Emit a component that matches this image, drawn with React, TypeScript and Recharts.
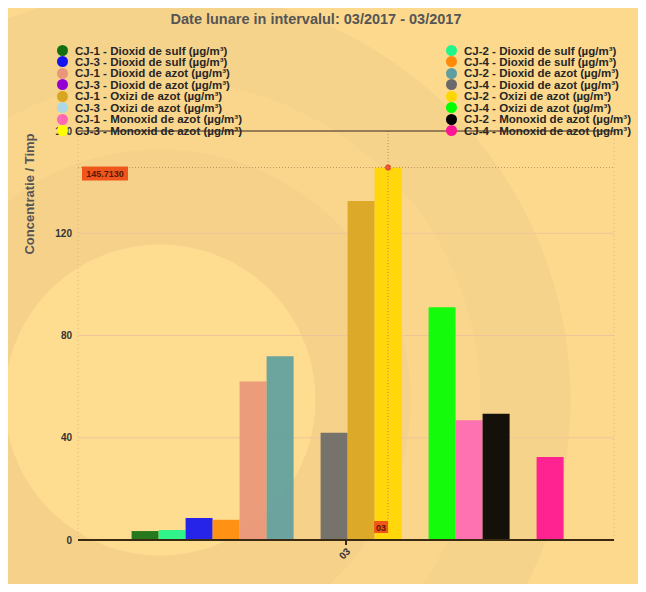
import React from 'react';
import { BarChart, Bar, XAxis, YAxis, CartesianGrid, ReferenceLine, ReferenceArea } from 'recharts';

const title = 'Date lunare in intervalul: 03/2017 - 03/2017';
const months = ['03'];
const seriesNames = [
  'CJ-1 - Dioxid de sulf (µg/m³)',
  'CJ-2 - Dioxid de sulf (µg/m³)',
  'CJ-3 - Dioxid de sulf (µg/m³)',
  'CJ-4 - Dioxid de sulf (µg/m³)',
  'CJ-1 - Dioxid de azot (µg/m³)',
  'CJ-2 - Dioxid de azot (µg/m³)',
  'CJ-3 - Dioxid de azot (µg/m³)',
  'CJ-4 - Dioxid de azot (µg/m³)',
  'CJ-1 - Oxizi de azot (µg/m³)',
  'CJ-2 - Oxizi de azot (µg/m³)',
  'CJ-3 - Oxizi de azot (µg/m³)',
  'CJ-4 - Oxizi de azot (µg/m³)',
  'CJ-1 - Monoxid de azot (µg/m³)',
  'CJ-2 - Monoxid de azot (µg/m³)',
  'CJ-3 - Monoxid de azot (µg/m³)',
  'CJ-4 - Monoxid de azot (µg/m³)',
];
const seriesColors = [
  '#127012', '#1ff58a', '#1414f0', '#ff8a0a',
  '#e9967a', '#5f9ea0', '#9400d3', '#6a6a6a',
  '#daa520', '#ffd700', '#add8e6', '#00ff00',
  '#ff69b4', '#000000', '#ffff00', '#ff1493',
];
// values for March 2017
const seriesValues = [3.5, 3.9, 8.6, 7.9, 62.0, 71.9, 0, 42.0, 132.6, 145.713, 0, 91.1, 46.8, 49.4, 0, 32.5];
const yTicks = [0, 40, 80, 120, 160];
const activeSeries = 9;
const activeValue = 145.713;

const data = months.map((m) => {
  const row: Record<string, any> = { month: m };
  seriesValues.forEach((v, i) => { row['s' + i] = v; });
  return row;
});

const FONT = 'Arial, "Liberation Sans", Helvetica, sans-serif';

const ActiveBar = (props: any) => {
  const { x, y, width, height, fill, payload } = props;
  const v = payload['s' + activeSeries];
  const base = y + height;
  const top = base - (height / v) * yTicks[yTicks.length - 1];
  const cx = x + width / 2;
  return (
    <g>
      <rect x={x} y={y} width={width} height={height} fill={fill} fillOpacity={0.92} />
      <line x1={cx} x2={cx} y1={top} y2={base - 19} stroke="#c08858" strokeDasharray="1 2" />
      <circle cx={cx} cy={y} r={3} fill="#e8502a" />
      <rect x={cx - 14} y={base - 19} width={14} height={12} fill="#f0561c" />
      <text x={cx - 7} y={base - 9.5} textAnchor="middle" fontSize={9} fontWeight="bold" fill="#5a1800" fontFamily={FONT}>
        {payload.month}
      </text>
    </g>
  );
};

const ValueLabel = (props: any) => {
  const vb = props.viewBox;
  return (
    <g>
      <rect x={vb.x + 4} y={vb.y - 1} width={46} height={14} fill="#f0561c" />
      <text x={vb.x + 27} y={vb.y + 9.5} textAnchor="middle" fontSize={9} fontWeight="bold" fill="#5a1800" fontFamily={FONT}>
        {activeValue.toFixed(4)}
      </text>
    </g>
  );
};

const YLabel = (props: any) => {
  const vb = props.viewBox;
  const lx = vb.x - 4;
  const ly = vb.y + 63;
  return (
    <text x={lx} y={ly} transform={`rotate(-90, ${lx}, ${ly})`} textAnchor="middle" fontSize={13} fontWeight="bold" fill="#555" fontFamily={FONT}>
      Concentratie / Timp
    </text>
  );
};

export default function App() {
  return (
    <div style={{ position: 'relative', width: 646, height: 592, margin: -8, background: '#dcdcdc', fontFamily: FONT, overflow: 'hidden' }}>
      <div
        style={{
          position: 'absolute', left: 8, top: 5, width: 638, height: 587,
          background: 'radial-gradient(circle at 152px 395px, #fedc90 0px, #fedc90 155px, #f5d18a 156px, #f5d18a 250px, #fad68c 251px, #fad68c 320px, #f6d38b 321px, #f6d38b 410px, #fcd98d 411px)',
        }}
      />
      <div style={{ position: 'absolute', left: 0, width: 632, top: 11, textAlign: 'center', fontSize: 14.5, fontWeight: 'bold', color: '#555' }}>
        {title}
      </div>
      <div style={{ position: 'absolute', left: 0, top: 0 }}>
        <BarChart width={646} height={592} data={data} margin={{ top: 131, right: 32, bottom: 12, left: 38 }} barCategoryGap="10%" barGap={0}>
          <CartesianGrid vertical={false} stroke="#f0c498" />
          <ReferenceArea y1={0} y2={160} fill="none" stroke="#e2b47e" strokeDasharray="1 3" ifOverflow="visible" />
          <XAxis
            dataKey="month"
            height={40}
            axisLine={{ stroke: '#3b2a12', strokeWidth: 2 }}
            tickLine={{ stroke: '#3b2a12', strokeWidth: 2 }}
            tickSize={5}
            tick={{ fontSize: 10, fontWeight: 'bold', fill: '#333', angle: -45, textAnchor: 'end', fontFamily: FONT } as any}
          />
          <YAxis
            width={40}
            domain={[0, 160]}
            ticks={yTicks}
            axisLine={false}
            tickLine={false}
            tickSize={0}
            tickMargin={6}
            tick={{ fontSize: 10, fontWeight: 'bold', fill: '#333', fontFamily: FONT } as any}
            label={{ content: YLabel } as any}
          />
          {seriesNames.map((name, i) => (
            <Bar
              key={name}
              dataKey={'s' + i}
              name={name}
              fill={seriesColors[i]}
              fillOpacity={0.92}
              isAnimationActive={false}
              shape={i === activeSeries ? ActiveBar : undefined}
            />
          ))}
          <ReferenceLine y={activeValue} stroke="#c89060" strokeDasharray="1 2" label={{ content: ValueLabel } as any} />
          <ReferenceLine y={160} stroke="#3a3020" strokeWidth={1} />
        </BarChart>
      </div>
      {seriesNames.map((name, i) => {
        const col = i % 2;
        const row = Math.floor(i / 2);
        return (
          <div
            key={name}
            style={{
              position: 'absolute', left: col === 0 ? 57 : 446, top: 44 + row * 11.45,
              display: 'flex', alignItems: 'center', height: 13, whiteSpace: 'nowrap',
            }}
          >
            <span style={{ width: 11, height: 11, borderRadius: '50%', background: seriesColors[i], display: 'inline-block', flexShrink: 0 }} />
            <span style={{ marginLeft: 7, fontSize: 11.5, fontWeight: 'bold', color: '#262626' }}>{name}</span>
          </div>
        );
      })}
    </div>
  );
}
